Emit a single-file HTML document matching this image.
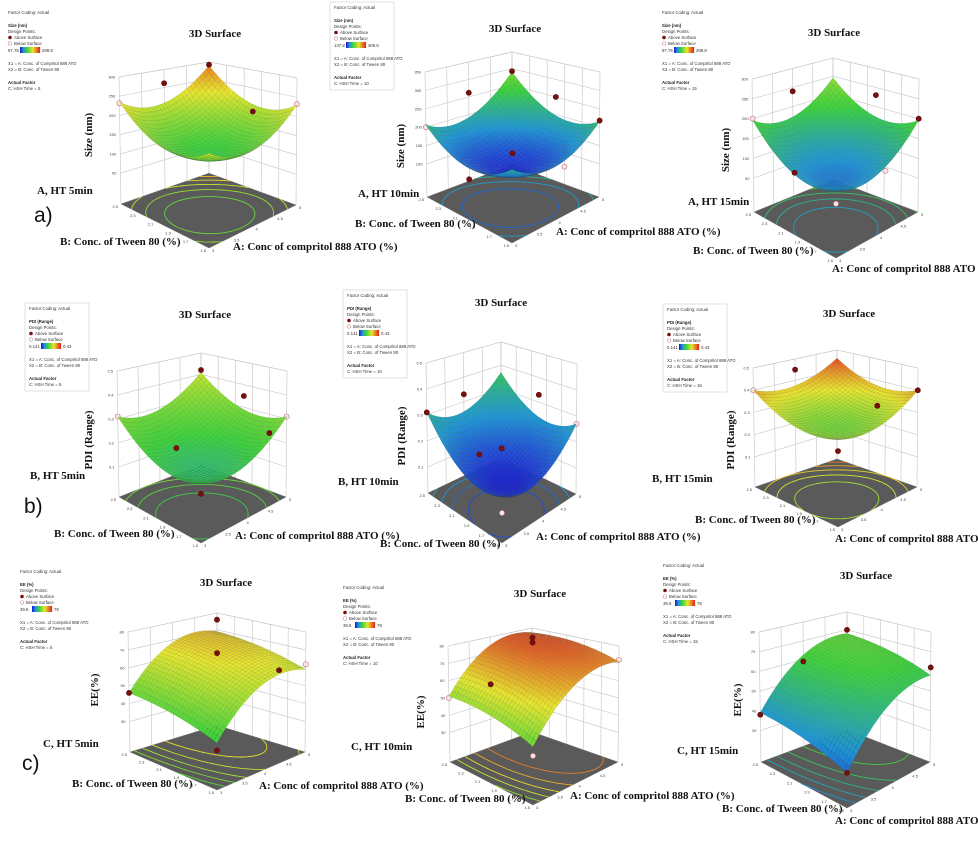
<!DOCTYPE html>
<html><head><meta charset="utf-8"><style>
html,body{margin:0;padding:0;background:#fff;}
svg{display:block;}
.lg{font-family:"Liberation Sans",sans-serif;font-size:4.3px;fill:#333;}
.lgb{font-family:"Liberation Sans",sans-serif;font-size:4.3px;fill:#222;font-weight:bold;}
.ttl{font-family:"Liberation Serif",serif;font-size:11px;font-weight:bold;fill:#111;}
.ax{font-family:"Liberation Serif",serif;font-size:11px;font-weight:bold;fill:#111;}
.tk{font-family:"Liberation Sans",sans-serif;font-size:4px;fill:#444;}
.big{font-family:"Liberation Sans",sans-serif;font-size:21px;fill:#111;}
</style></head><body>
<svg id="fig" width="978" height="845" viewBox="0 0 978 845" xmlns="http://www.w3.org/2000/svg">
<rect x="0" y="0" width="978" height="845" fill="#fff"/>
</svg>
<script>
// ---------- data ----------
const responseNames = ["Size (nm)","Size (nm)","Size (nm)","PDI (Range)","PDI (Range)","PDI (Range)","EE (%)","EE (%)","EE (%)"];
const axisTitles = ["Size (nm)","Size (nm)","Size (nm)","PDI (Range)","PDI (Range)","PDI (Range)","EE(%)","EE(%)","EE(%)"];
const timeLabels = ["A, HT 5min","A, HT 10min","A, HT 15min","B, HT 5min","B, HT 10min","B, HT 15min","C, HT 5min","C, HT 10min","C, HT 15min"];
const hshTimes = [5,10,15,5,10,15,5,10,15];
// quadratic model coefficients (coded units): b0, bA, bB, bAB, bA2, bB2
const coefSize5  = [130, 20, 22.5, 7.5, 55, 55];
const coefSize10 = [116, 25, 20, 17.5, 56, 56];
const coefSize15 = [95, 30, 30, -5, 48, 48];
const coefPdi5   = [0.17, 0.05, 0.05, 0, 0.07, 0.07];
const coefPdi10  = [0.12, 0.04, 0.06, -0.01, 0.08, 0.08];
const coefPdi15  = [0.29, 0.03, 0.03, 0, 0.055, 0.055];
const coefEe5    = [66, 11, 4.5, 0.5, -11, -2];
const coefEe10   = [75, 13, 3, 0, -11, -3];
const coefEe15   = [60, 14, 4.5, 0.5, -9, -2];
// colour legend ranges (printed)
const colorLow  = [97.75, 137.8, 97.75, 0.141, 0.141, 0.141, 39.6, 39.6, 39.6];
const colorHigh = [298.8, 306.6, 298.8, 0.43, 0.43, 0.43, 79, 79, 79];
// colour scale domain used for shading each surface
const shadeLow  = [18, 104, 35, -0.09, 0.10, 0.12, 10, 17, 20];
const shadeHigh = [338, 516, 465, 0.76, 0.99, 0.48, 95, 84, 140];
// vertical axis ticks
const ticksSize = [50,100,150,200,250,300];
const ticksSize10 = [100,150,200,250,300,350];
const ticksPdi = [0.1,0.2,0.3,0.4,0.5];
const ticksEe = [30,40,50,60,70,80];
const ticksA = ["3","3.5","4","4.5","5"];
const ticksB = ["1.5","1.7","1.9","2.1","2.3","2.5"];
// design points: [a01, b01, value, above(1)/below(0)]
const ptsSize5  = [[0,1,232,0],[1,0,232,0],[1,1,292,1],[0.5,1,262,1],[1,0.5,185,1]];
const ptsSize10 = [[0,1,200,0],[1,0,218,1],[1,1,292,1],[0.5,1,262,1],[1,0.5,250,1],[0.5,0.5,140,1],[0,0.5,118,1],[0.6,0,140,0]];
const ptsSize15 = [[0,1,200,0],[1,0,200,1],[0.5,1,240,1],[1,0.5,230,1],[0,0.5,118,1],[0.6,0,112,0],[0,0,95,0]];
const ptsPdi5   = [[0,1,0.31,0],[1,0,0.31,0],[1,1,0.42,1],[1,0.5,0.35,1],[0.2,0.5,0.24,1],[1,0.2,0.22,1],[0,0,0.17,1]];
const ptsPdi10  = [[0,1,0.31,1],[1,0,0.27,0],[0.5,1,0.33,1],[1,0.5,0.33,1],[0.3,0.6,0.18,1],[0.5,0.5,0.19,1],[0.8,0.2,0.12,0],[0,0,0.11,0]];
const ptsPdi15  = [[0,1,0.4,0],[1,0,0.4,1],[0.5,1,0.45,1],[0.8,0.3,0.33,1],[0,0,0.29,1]];
const ptsEe5    = [[0,1,46,1],[1,0,62,0],[1,1,76,1],[0.5,0.5,70,1],[0.3,0.8,47,0],[0.9,0.2,58,1],[0,0,34,1]];
const ptsEe10   = [[0,1,50,0],[1,0,72,0],[0.8,0.8,79,1],[0.8,0.8,76,1],[0.3,0.8,58,1],[0,0,40,0]];
const ptsEe15   = [[0,1,38,1],[1,0,62,1],[1,1,70,1],[0.5,1,59,1],[0.3,0.6,41,0],[0.9,0.3,50,0],[0,0,31,1]];

// ---------- layout (pixels) ----------
const coefs = [coefSize5,coefSize10,coefSize15,coefPdi5,coefPdi10,coefPdi15,coefEe5,coefEe10,coefEe15];
const ptsAll = [ptsSize5,ptsSize10,ptsSize15,ptsPdi5,ptsPdi10,ptsPdi15,ptsEe5,ptsEe10,ptsEe15];
const zTicks = [ticksSize,ticksSize10,ticksSize,ticksPdi,ticksPdi,ticksPdi,ticksEe,ticksEe,ticksEe];
const geom = [
 {FL:[121,204],FR:[296,205],FF:[209,248],TLy:77,TB:[209,62],zlo:-30,zhi:300},
 {FL:[427,197],FR:[599,197],FF:[512,243],TLy:72,TB:[512,52],zlo:10,zhi:350},
 {FL:[754,212],FR:[918,212],FF:[836,258],TLy:79,TB:[833,58],zlo:-35,zhi:300},
 {FL:[119,497],FR:[286,497],FF:[201,543],TLy:371,TB:[201,353],zlo:-0.025,zhi:0.5},
 {FL:[428,493],FR:[576,494],FF:[502,543],TLy:363,TB:[501,342],zlo:0,zhi:0.5},
 {FL:[755,487],FR:[917,487],FF:[838,527],TLy:368,TB:[837,350],zlo:-0.035,zhi:0.5},
 {FL:[130,752],FR:[305,752],FF:[217,790],TLy:632,TB:[217,613],zlo:13,zhi:80},
 {FL:[450,762],FR:[618,762],FF:[533,805],TLy:646,TB:[532,628],zlo:13,zhi:80},
 {FL:[761,762],FR:[930,762],FF:[847,808],TLy:632,TB:[847,612],zlo:14,zhi:80}
];
const titlePos = [[215,37],[515,32],[834,36],[205,318],[501,306],[849,317],[226,586],[540,597],[866,579]];
const legendPos = [[8,14,0],[334,9,1],[662,14,0],[29,310,1],[347,297,1],[667,311,1],[20,573,0],[343,589,0],[663,567,0]];
const yTitlePos = [[92,135],[404,146],[729,150],[92,440],[405,436],[734,440],[98,690],[424,712],[741,700]];
const timePos = [[37,194],[358,197],[688,205],[30,479],[338,485],[652,482],[43,747],[351,750],[677,754]];
const bLabPos = [[60,245],[355,227],[693,254],[54,537],[380,547],[695,523],[72,787],[405,802],[722,812]];
const aLabPos = [[233,250],[556,235],[832,272],[235,539],[536,540],[835,542],[259,789],[570,799],[835,824]];
const letters = [["a)",34,222],["b)",24,513],["c)",22,770]];

const NS="http://www.w3.org/2000/svg";
const svg=document.getElementById('fig');
function el(tag,attrs,parent){const e=document.createElementNS(NS,tag);for(const k in attrs)e.setAttribute(k,attrs[k]);(parent||svg).appendChild(e);return e;}
function cmap(t){
  t=Math.max(0,Math.min(1,t));
  const s=[[0,[30,35,215]],[0.15,[30,150,215]],[0.35,[60,210,60]],[0.65,[232,230,45]],[1,[228,45,30]]];
  for(let i=0;i<s.length-1;i++){if(t<=s[i+1][0]){const u=(t-s[i][0])/(s[i+1][0]-s[i][0]);const c=s[i][1].map((v,k)=>Math.round(v+u*(s[i+1][1][k]-v)));return `rgb(${c[0]},${c[1]},${c[2]})`;}}
  return 'rgb(228,45,30)';
}
function model(c,a,b){const x=2*a-1,y=2*b-1;return c[0]+c[1]*x+c[2]*y+c[3]*x*y+c[4]*x*x+c[5]*y*y;}

for(let p=0;p<9;p++){
  const g=geom[p], c=coefs[p];
  const FL=g.FL,FR=g.FR,FF=g.FF;
  const FB=[g.TB[0], FL[1]-(FF[1]-FL[1])*0.7];
  const H=FL[1]-g.TLy;
  const TL=[FL[0]-2,g.TLy],TR=[FR[0]+1,g.TLy+(FR[1]-FL[1])],TB=g.TB,TF=[FF[0],FF[1]-H*1.05];
  const bil=(q,a,b)=>{const [F,R,L,B]=q;return [F[0]*(1-a)*(1-b)+R[0]*a*(1-b)+L[0]*(1-a)*b+B[0]*a*b, F[1]*(1-a)*(1-b)+R[1]*a*(1-b)+L[1]*(1-a)*b+B[1]*a*b];};
  const fq=[FF,FR,FL,FB], tq=[TF,TR,TL,TB];
  const zScale=v=>(v-g.zlo)/(g.zhi-g.zlo);
  const proj=(a,b,v)=>{const t=zScale(v);const f=bil(fq,a,b),u=bil(tq,a,b);return [f[0]+t*(u[0]-f[0]),f[1]+t*(u[1]-f[1])];};
  const lo=shadeLow[p],hi=shadeHigh[p];
  const col=v=>cmap((v-lo)/(hi-lo));

  const grp=el('g',{});
  
  

  const walls=el('g',{stroke:'#c4c4c4','stroke-width':'0.6',fill:'none'},grp);
  
  
  const zt=zTicks[p];
  for(let i=0;i<=4;i++){const a=i/4;const p1=proj(a,1,g.zlo),p2=proj(a,1,g.zhi);el('line',{x1:p1[0],y1:p1[1],x2:p2[0],y2:p2[1]},walls);}
  for(let i=0;i<=5;i++){const b=i/5;const p1=proj(1,b,g.zlo),p2=proj(1,b,g.zhi);el('line',{x1:p1[0],y1:p1[1],x2:p2[0],y2:p2[1]},walls);}
  zt.forEach(v=>{const a1=proj(0,1,v),a2=proj(1,1,v),a3=proj(1,0,v);el('polyline',{points:`${a1} ${a2} ${a3}`},walls);});
  {const a1=proj(0,1,g.zhi),a2=proj(1,1,g.zhi),a3=proj(1,0,g.zhi);el('polyline',{points:`${a1} ${a2} ${a3}`},walls);}
  zt.forEach(v=>{const q=proj(0,1,v);const t=el('text',{x:q[0]-4,y:q[1]+1.5,class:'tk','text-anchor':'end'},grp);t.textContent=String(v);
    });

  const fl=el('polygon',{points:`${FF} ${FR} ${FB} ${FL}`,fill:'#5a5a5a',stroke:'#777','stroke-width':'0.5'},grp);
  
  
  const N=30;const vals=[];let vmin=1e9,vmax=-1e9;
  for(let i=0;i<=N;i++){vals.push([]);for(let j=0;j<=N;j++){const v=model(c,i/N,j/N);vals[i].push(v);vmin=Math.min(vmin,v);vmax=Math.max(vmax,v);}}
  const cg=el('g',{fill:'none','stroke-width':'0.9'},grp);
  
  
  const fp=(a,b)=>bil(fq,a,b);
  for(let L=1;L<=5;L++){
    const lev=vmin+(vmax-vmin)*L/6;let d='';
    for(let i=0;i<N;i++)for(let j=0;j<N;j++){
      const v=[vals[i][j],vals[i+1][j],vals[i+1][j+1],vals[i][j+1]];
      const cs=[[i,j],[i+1,j],[i+1,j+1],[i,j+1]];const pts=[];
      for(let e=0;e<4;e++){const v1=v[e],v2=v[(e+1)%4];if((v1<lev)!==(v2<lev)){const u=(lev-v1)/(v2-v1);const A=cs[e],B=cs[(e+1)%4];pts.push(fp((A[0]+u*(B[0]-A[0]))/N,(A[1]+u*(B[1]-A[1]))/N));}}
      for(let s=0;s+1<pts.length;s+=2)d+=`M${pts[s][0].toFixed(1)},${pts[s][1].toFixed(1)}L${pts[s+1][0].toFixed(1)},${pts[s+1][1].toFixed(1)}`;
    }
    const path=el('path',{d:d,stroke:col(lev)},cg);
    
    
  }
  ticksA.forEach((s,i)=>{const q=fp(i/4,0);const t=el('text',{x:q[0]+3,y:q[1]+4,class:'tk'},grp);t.textContent=s;
    });
  ticksB.forEach((s,i)=>{const q=fp(0,i/5);const t=el('text',{x:q[0]-3,y:q[1]+4,class:'tk','text-anchor':'end'},grp);t.textContent=s;
    });

  const drawPts=(above)=>{ptsAll[p].forEach(d=>{if(d[3]!==above)return;const q=proj(d[0],d[1],d[2]);
    const ci=el('circle',{cx:q[0],cy:q[1],r:2.6,fill:above?'#7a0f0f':'#f6e6e6',stroke:above?'#5a0a0a':'#c07070','stroke-width':'0.6'},grp);
    
    });};
  drawPts(0);
  const sg=el('g',{stroke:'rgba(40,60,40,0.3)','stroke-width':'0.3'},grp);
  
  
  const M=28;const quads=[];
  for(let i=0;i<M;i++)for(let j=0;j<M;j++)quads.push([i,j]);
  quads.sort((q1,q2)=>(q2[0]+q2[1])-(q1[0]+q1[1]));
  quads.forEach(([i,j])=>{
    const a0=i/M,a1=(i+1)/M,b0=j/M,b1=(j+1)/M;
    const P=[[a0,b0],[a1,b0],[a1,b1],[a0,b1]].map(([a,b])=>proj(a,b,model(c,a,b)));
    const vm=model(c,(a0+a1)/2,(b0+b1)/2);
    el('polygon',{points:P.map(x=>x[0].toFixed(1)+','+x[1].toFixed(1)).join(' '),fill:col(vm)},sg);
  });
  drawPts(1);

  const tt=el('text',{x:titlePos[p][0],y:titlePos[p][1],class:'ttl','text-anchor':'middle'},grp);tt.textContent='3D Surface';
  
  const yt=el('text',{x:yTitlePos[p][0],y:yTitlePos[p][1],class:'ax','text-anchor':'middle',transform:`rotate(-90 ${yTitlePos[p][0]} ${yTitlePos[p][1]})`},grp);yt.textContent=axisTitles[p];
  
  const tl=el('text',{x:timePos[p][0],y:timePos[p][1],class:'ax'},grp);tl.textContent=timeLabels[p];
  
  const bl=el('text',{x:bLabPos[p][0],y:bLabPos[p][1],class:'ax'},grp);bl.textContent='B: Conc. of Tween 80 (%)';
  
  const al=el('text',{x:aLabPos[p][0],y:aLabPos[p][1],class:'ax'},grp);al.textContent='A: Conc of compritol 888 ATO (%)';
  

  const [lx,ly,box]=legendPos[p];
  const lgd=el('g',{},grp);
  
  
  if(box)el('rect',{x:lx-4,y:ly-7,width:64,height:88,fill:'#fff',stroke:'#ccc','stroke-width':'0.6'},lgd);
  const line=(txt,dy,cls,fill,dx)=>{const t=el('text',{x:lx+(dx||0),y:ly+dy,class:cls},lgd);if(fill)t.setAttribute('fill',fill);t.textContent=txt;return t;};
  line('Factor Coding: Actual',0,'lg');
  line(responseNames[p],13,'lgb');
  line('Design Points:',19,'lg');
  el('circle',{cx:lx+2,cy:ly+23.5,r:1.8,fill:'#7a0f0f'},lgd);line('Above Surface',25,'lg','#b03030',6);
  el('circle',{cx:lx+2,cy:ly+29.5,r:1.8,fill:'#fff',stroke:'#c07070','stroke-width':'0.5'},lgd);line('Below Surface',31,'lg','#b03030',6);
  line(String(colorLow[p]),38,'lg','#4040c0');
  for(let s=0;s<20;s++)el('rect',{x:lx+12+s,y:ly+33,width:1.1,height:6,fill:cmap(s/19)},lgd);
  line(String(colorHigh[p]),38,'lg','#c03030',34);
  line('X1 = A: Conc. of Compritol 888 ATO',51,'lg');
  line('X2 = B: Conc. of Tween 80',57,'lg');
  line('Actual Factor',70,'lgb');
  line('C: HSH Time = '+hshTimes[p],76,'lg');
}
letters.forEach(([s,x,y])=>{const t=el('text',{x:x,y:y,class:'big'});t.textContent=s;
  });
</script>
</body></html>
